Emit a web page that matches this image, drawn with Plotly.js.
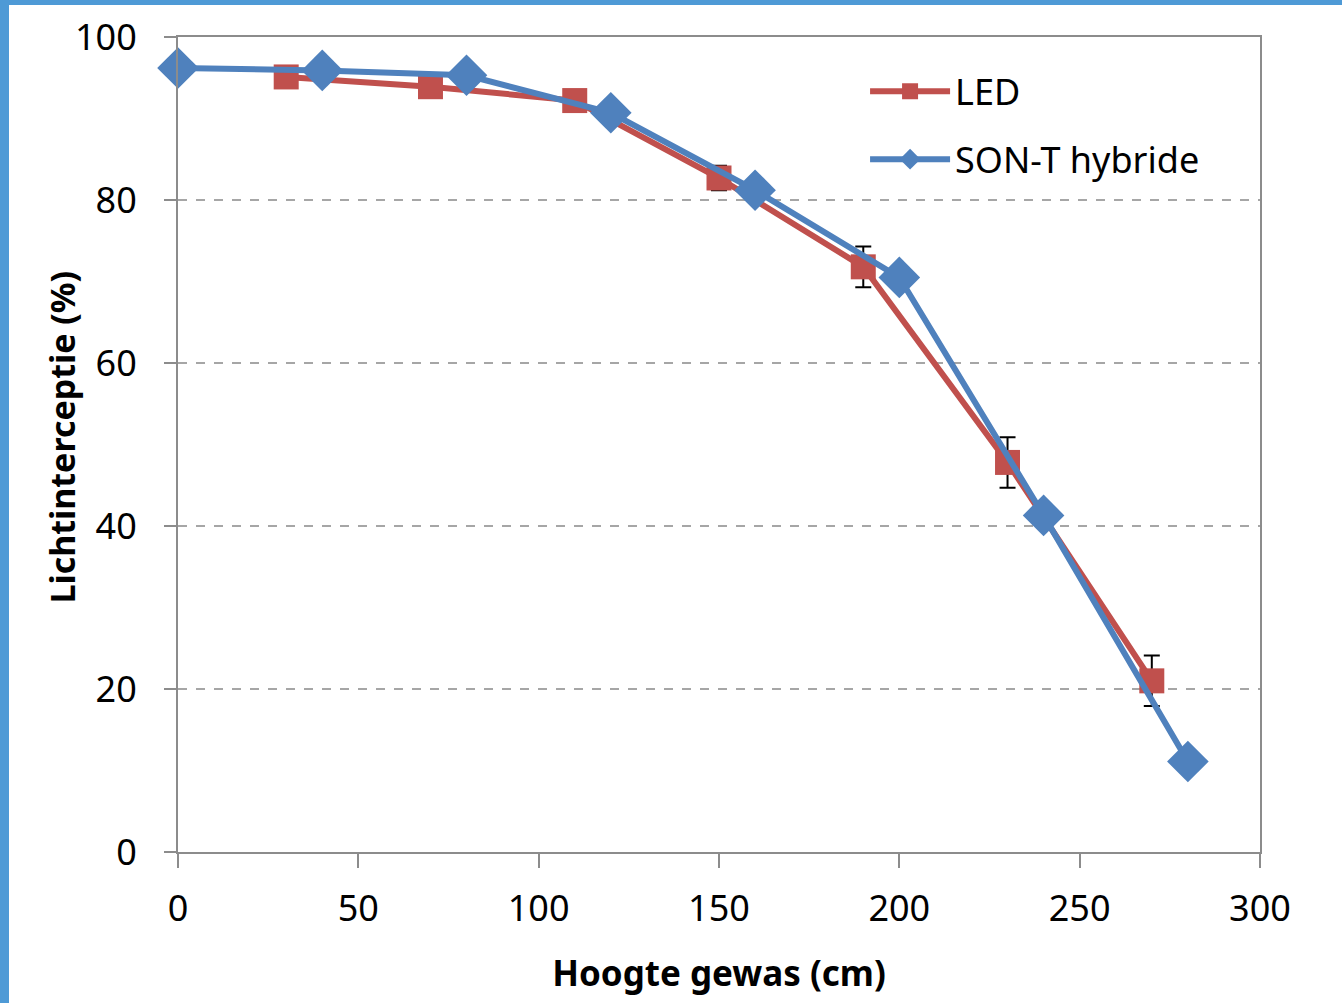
<!DOCTYPE html>
<html>
<head>
<meta charset="utf-8">
<script src="https://cdn.plot.ly/plotly-3.0.1.min.js"></script>
<style>
html,body{margin:0;padding:0;background:#fff;}
#wrap{position:relative;width:1342px;height:1003px;overflow:hidden;}
#chart{position:absolute;left:0;top:0;width:1342px;height:1003px;}
.frameL{position:absolute;left:0;top:0;width:9px;height:1003px;background:#4E9AD6;}
.frameT{position:absolute;left:0;top:0;width:1342px;height:5px;background:#4E9AD6;}
</style>
</head>
<body>
<div id="wrap">
<div id="chart"></div>
<div class="frameL"></div>
<div class="frameT"></div>
</div>
<script>
// Data
const ledX = [30, 70, 110, 150, 190, 230, 270];
const ledY = [95.1, 93.9, 92.2, 82.7, 71.8, 47.8, 21.0];
const ledErr = [0.4, 0.4, 0.5, 1.5, 2.5, 3.1, 3.1];

const sonX = [0, 40, 80, 120, 160, 200, 240, 280];
const sonY = [96.2, 95.9, 95.3, 90.7, 81.2, 70.5, 41.3, 11.1];
const sonErr = [0.3, 0.3, 0.3, 0.4, 0.5, 1.0, 1.0, 1.3];

const xTicks = [0, 50, 100, 150, 200, 250, 300];
const yTicks = [0, 20, 40, 60, 80, 100];

const xTitle = 'Hoogte gewas (cm)';
const yTitle = 'Lichtinterceptie (%)';

const FONT = 'Noto Sans, Open Sans, sans-serif';

const traces = [
  {
    x: ledX, y: ledY, name: 'LED', type: 'scatter', mode: 'lines+markers',
    legendgroup: 'led', cliponaxis: false,
    line: {color: '#C0504D', width: 6},
    marker: {symbol: 'square', size: 25, color: '#C0504D'},
    error_y: {type: 'data', array: ledErr, visible: true, color: '#000', thickness: 2, width: 8}
  },
  {
    x: sonX, y: sonY, name: 'SON-T hybride', type: 'scatter', mode: 'lines+markers',
    legendgroup: 'son', cliponaxis: false,
    line: {color: '#4F81BD', width: 6},
    marker: {symbol: 'diamond', size: 32, color: '#4F81BD'},
    error_y: {type: 'data', array: sonErr, visible: true, color: '#000', thickness: 2, width: 8}
  }
];

const layout = {
  width: 1342, height: 1003,
  margin: {l: 178, r: 82, t: 37, b: 151},
  paper_bgcolor: '#fff', plot_bgcolor: '#fff',
  font: {family: FONT, color: '#000'},
  showlegend: true,
  legend: {
    x: 0.635, y: 0.97, xanchor: 'left', yanchor: 'top',
    font: {family: FONT, size: 36, color: '#000'},
    bgcolor: 'rgba(0,0,0,0)', tracegroupgap: 18, itemwidth: 80
  },
  xaxis: {
    range: [0, 300], tickvals: xTicks, ticktext: xTicks.map(String),
    showgrid: false, zeroline: false,
    showline: true, linecolor: '#8C8C8C', linewidth: 2, mirror: true,
    ticks: 'outside', ticklen: 14, tickwidth: 2, tickcolor: '#8C8C8C',
    ticklabelstandoff: 10,
    tickfont: {family: FONT, size: 36, color: '#000'},
    title: {text: '<b>' + xTitle + '</b>', font: {family: FONT, size: 35, color: '#000'}, standoff: 30}
  },
  yaxis: {
    range: [0, 100], tickvals: yTicks, ticktext: yTicks.map(String),
    showgrid: true, gridcolor: '#A6A6A6', griddash: 'dash', gridwidth: 2,
    zeroline: false,
    showline: true, linecolor: '#8C8C8C', linewidth: 2, mirror: true,
    ticks: 'outside', ticklen: 12, tickwidth: 2, tickcolor: '#8C8C8C',
    ticklabelstandoff: 20,
    tickfont: {family: FONT, size: 36, color: '#000'}
  },
  annotations: [{
    text: '<b>' + yTitle + '</b>', xref: 'paper', yref: 'paper',
    x: -0.1072, y: 0.5086, xanchor: 'center', yanchor: 'middle',
    textangle: -90, showarrow: false,
    font: {family: FONT, size: 34, color: '#000'}
  }]
};

Plotly.newPlot('chart', traces, layout, {displayModeBar: false, staticPlot: true});
</script>
</body>
</html>
